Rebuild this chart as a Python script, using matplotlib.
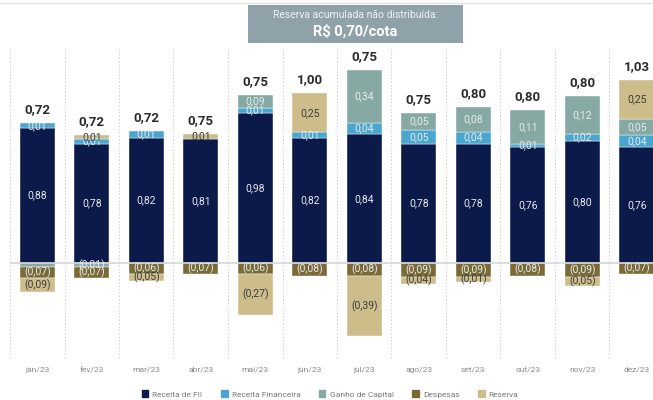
import matplotlib
matplotlib.use("Agg")
import matplotlib.pyplot as plt
import numpy as np
from matplotlib.patches import Patch

plt.rcParams["font.family"] = ["Roboto", "DejaVu Sans"]

months = ["jan/23", "fev/23", "mar/23", "abr/23", "mai/23", "jun/23",
          "jul/23", "ago/23", "set/23", "out/23", "nov/23", "dez/23"]

# values printed on the chart (R$/cota)
receita_fii = [0.88, 0.78, 0.82, 0.81, 0.98, 0.82, 0.84, 0.78, 0.78, 0.76, 0.80, 0.76]
receita_fin = [0.01, 0.01, 0.01, 0.00, 0.01, 0.01, 0.04, 0.05, 0.04, 0.01, 0.02, 0.04]
ganho_capital = [-0.01, -0.01, 0.00, 0.00, 0.09, 0.00, 0.34, 0.05, 0.08, 0.11, 0.12, 0.05]
despesas = [-0.07, -0.07, -0.06, -0.07, -0.06, -0.08, -0.08, -0.09, -0.09, -0.08, -0.09, -0.07]
reserva = [-0.09, 0.01, -0.05, 0.01, -0.27, 0.25, -0.39, -0.04, -0.01, 0.00, -0.05, 0.25]
totals = [0.72, 0.72, 0.72, 0.75, 0.75, 1.00, 0.75, 0.75, 0.80, 0.80, 0.80, 1.03]

# segment heights as drawn in the original (small ones are not to scale there)
fin_drawn = [0.033, 0.03, 0.04, 0.00, 0.033, 0.033, 0.078, 0.09, 0.078, 0.02, 0.04, 0.078]
gc_drawn = [-0.026, -0.026, 0.00, 0.00, 0.085, 0.00, 0.346, 0.11, 0.163, 0.22, 0.25, 0.105]
desp_drawn = [-0.072, -0.072, -0.072, -0.072, -0.072, -0.085, -0.085, -0.09, -0.09, -0.085, -0.09, -0.072]
res_drawn = [-0.09, 0.026, -0.046, 0.033, -0.27, 0.255, -0.39, -0.046, -0.033, 0.00, -0.06, 0.25]

C_FII = "#0b1a48"
C_FIN = "#4aa6cf"
C_GC = "#86a9a3"
C_DESP = "#7a6a36"
C_RES = "#cdbd8a"


def fmt(v):
    s = f"{abs(v):.2f}".replace(".", ",")
    return f"({s})" if v < 0 else s


fig = plt.figure(figsize=(6.53, 4.0), dpi=100)
W, H = 653, 400
left_px, right_px, top_px, bot_px = 10, 653, 48, 358
zero_px = 263
ax = fig.add_axes([left_px / W, 1 - bot_px / H, (right_px - left_px) / W, (bot_px - top_px) / H])

step = 54.5
ax.set_xlim(-0.5, -0.5 + (right_px - left_px) / step)
scale = 153.0
ax.set_ylim(-(bot_px - zero_px) / scale, (zero_px - top_px) / scale)

x = np.arange(len(months))
bw = 0.64

# positive stack: FII, Financeira, Ganho, Reserva ; negative: Ganho, Despesas, Reserva
pos_series = [("fii", receita_fii, receita_fii, C_FII), ("fin", receita_fin, fin_drawn, C_FIN),
              ("gc", ganho_capital, gc_drawn, C_GC), ("res", reserva, res_drawn, C_RES)]
neg_series = [("gc", ganho_capital, gc_drawn, C_GC), ("desp", despesas, desp_drawn, C_DESP),
              ("res", reserva, res_drawn, C_RES)]

light_txt = "#e6eaf0"
dark_txt = "#3d3d3d"

for i in range(len(months)):
    base = 0.0
    for name, vals, hts, col in pos_series:
        v, h = vals[i], hts[i]
        if h <= 0:
            continue
        ax.bar(x[i], h, bw, bottom=base, color=col, edgecolor="white", linewidth=0.3, zorder=3)
        tc = dark_txt if name == "res" else light_txt
        ax.text(x[i], base + h / 2, fmt(v), ha="center", va="center", fontsize=7.5, color=tc, zorder=5)
        base += h
    top = base
    base = 0.0
    for name, vals, hts, col in neg_series:
        v, h = vals[i], hts[i]
        if h >= 0:
            continue
        ax.bar(x[i], h, bw, bottom=base, color=col, edgecolor="white", linewidth=0.3, zorder=3)
        tc = dark_txt if name == "res" else light_txt
        if not (name == "gc" and i == 0):
            ax.text(x[i], base + h / 2, fmt(v), ha="center", va="center", fontsize=7.5, color=tc, zorder=5)
        base += h
    ax.text(x[i], top + 0.045, fmt(totals[i]), ha="center", va="bottom", fontsize=9.5,
            fontweight="bold", color="#2b2b2b", zorder=5)

ax.axhline(0, color="#d6d6d6", linewidth=1.2, zorder=4)
for b in np.arange(-0.5, len(months), 1.0):
    ax.axvline(b, color="#cfcfcf", linestyle=(0, (1.5, 2)), linewidth=0.7, zorder=1)

for s in ax.spines.values():
    s.set_visible(False)
ax.set_yticks([])
ax.set_xticks([])
for i, m in enumerate(months):
    ax.text(x[i], -(370 - zero_px) / scale, m, ha="center", va="center", fontsize=6, color="#8a8a8a",
            clip_on=False)

# title box
fig.patches.append(plt.Rectangle((248 / W, 1 - 43 / H), 215 / W, 38 / H, transform=fig.transFigure,
                                 facecolor="#8fa2aa", edgecolor="none", zorder=0))
fig.text(355 / W, 1 - 15 / H, "Reserva acumulada não distribuída:", ha="center", va="center",
         fontsize=7.5, color="#eef2f4")
fig.text(355 / W, 1 - 31 / H, "R$ 0,70/cota", ha="center", va="center",
         fontsize=10.5, fontweight="bold", color="white")
fig.lines.append(plt.Line2D([0, 1], [1 - 3 / H, 1 - 3 / H], transform=fig.transFigure,
                            color="#e2e2e2", linewidth=1))

handles = [Patch(color=C_FII, label="Receita de FII"), Patch(color=C_FIN, label="Receita Financeira"),
           Patch(color=C_GC, label="Ganho de Capital"), Patch(color=C_DESP, label="Despesas"),
           Patch(color=C_RES, label="Reserva")]
fig.legend(handles=handles, loc="center", bbox_to_anchor=(330 / W, 1 - 394 / H), ncol=5, frameon=False,
           fontsize=6, labelcolor="#7a7a7a", handlelength=0.8, handleheight=0.8, columnspacing=2.2,
           handletextpad=0.5)

fig.savefig("out.png", dpi=100)
